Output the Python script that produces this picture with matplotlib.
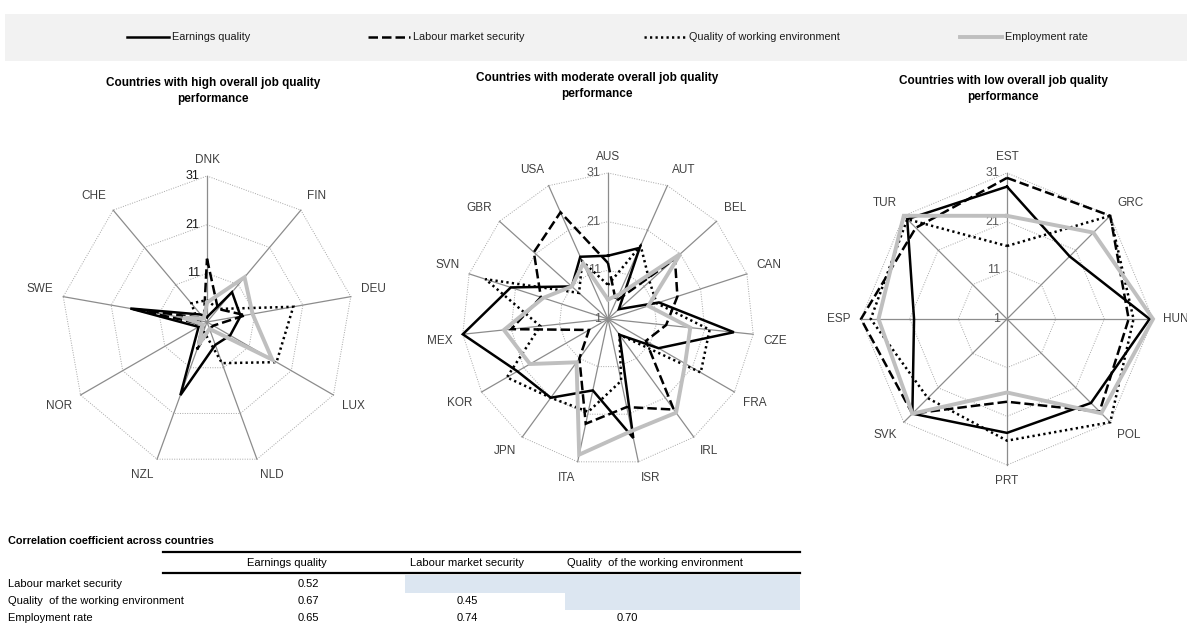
import numpy as np
import matplotlib.pyplot as plt

plt.rcParams['font.family'] = ['Liberation Sans', 'DejaVu Sans']

# series
series_names = ['Earnings quality', 'Labour market security',
                'Quality of working environment', 'Employment rate']

# high performers
high_countries = ['DNK', 'FIN', 'DEU', 'LUX', 'NLD', 'NZL', 'NOR', 'SWE', 'CHE']
high_earnings = [2, 9, 8, 6.5, 6, 17, 3, 17, 3]
high_labour = [14, 4.5, 9, 2.5, 2.5, 7, 2, 16.5, 2]
high_quality = [5.5, 4.5, 19, 17.5, 10, 3, 2, 3, 6]
high_employment = [5, 13, 10.5, 16.5, 2.5, 6, 2, 6, 2]

# moderate performers
mod_countries = ['AUS', 'AUT', 'BEL', 'CAN', 'CZE', 'FRA', 'IRL', 'ISR',
                 'ITA', 'JPN', 'KOR', 'MEX', 'SVN', 'GBR', 'USA']
mod_earnings = [14, 17, 4, 12, 27, 13, 5, 26, 16, 21, 22.5, 31, 22, 11, 15]
mod_labour = [12.5, 5, 19.5, 16, 13, 10, 24, 19.5, 23, 11, 5.5, 21, 15.5, 21.5, 25]
mod_quality = [8, 17.5, 12.5, 11.5, 22, 23, 5, 14, 20.5, 21, 25, 15, 27.5, 9, 14]
mod_employment = [5, 6.5, 21, 9.7, 18, 19.3, 24.8, 24.5, 29.5, 12, 19.5, 22.5, 15, 11, 13.5]

# low performers
low_countries = ['EST', 'GRC', 'HUN', 'POL', 'PRT', 'SVK', 'ESP', 'TUR']
low_earnings = [28.2, 19.2, 30.3, 25.4, 24.4, 28.5, 20.1, 30]
low_labour = [30, 31, 26, 27.9, 18, 28.5, 31, 27.5]
low_quality = [16, 31, 27, 31, 26, 24, 29, 30]
low_employment = [22.2, 26.1, 31, 28.4, 16.1, 28.5, 27.4, 31]

titles = ['Countries with high overall job quality\nperformance',
          'Countries with moderate overall job quality\nperformance',
          'Countries with low overall job quality\nperformance']

ring_values = [1, 11, 21, 31]

# correlation table
col_labels = ['Earnings quality', 'Labour market security',
              'Quality  of the working environment']
row_labels = ['Labour market security', 'Quality  of the working environment',
              'Employment rate']
corr_values = [[0.52, None, None],
               [0.67, 0.45, None],
               [0.65, 0.74, 0.70]]

W, H = 1187, 632
fig = plt.figure(figsize=(W / 100, H / 100), dpi=100)

styles = [dict(color='black', lw=1.8, ls='-'),
          dict(color='black', lw=1.8, ls=(0, (3.8, 1.6))),
          dict(color='black', lw=1.8, ls=(0, (0.9, 1.3))),
          dict(color='#bfbfbf', lw=2.8, ls='-')]

rmin, rmax = 1, 31
R = 146  # radius in pixels


def polar_xy(values, n):
    ang = np.arange(n) * 2 * np.pi / n
    r = (np.asarray(values, dtype=float) - rmin) / (rmax - rmin)
    return r * np.sin(ang), r * np.cos(ang)


def radar(cx, cy, countries, series, tick_color):
    half = 1.45
    ax = fig.add_axes([(cx - half * R) / W, (H - cy - half * R) / H,
                       2 * half * R / W, 2 * half * R / H])
    ax.set_xlim(-half, half)
    ax.set_ylim(-half, half)
    ax.axis('off')
    n = len(countries)
    for v in ring_values[1:]:
        x, y = polar_xy([v] * n, n)
        ax.plot(np.append(x, x[0]), np.append(y, y[0]), color='#a6a6a6',
                lw=0.7, ls=(0, (1, 1.5)), zorder=1)
    x, y = polar_xy([rmax] * n, n)
    for xi, yi in zip(x, y):
        ax.plot([0, xi], [0, yi], color='#8c8c8c', lw=0.9, zorder=1)
    for v in ring_values:
        r = (v - rmin) / (rmax - rmin)
        ax.text(-0.05, r, str(v), ha='right', va='center', fontsize=9,
                color=tick_color, zorder=2)
    for xi, yi, name in zip(x, y, countries):
        ha = 'left' if xi > 0.1 else ('right' if xi < -0.1 else 'center')
        va = 'bottom' if yi > 0.1 else ('top' if yi < -0.1 else 'center')
        ax.text(xi * 1.07, yi * 1.07, name, ha=ha, va=va, fontsize=8.5,
                color='#404040')
    for vals, st in zip(series, styles):
        x, y = polar_xy(vals, n)
        ax.plot(np.append(x, x[0]), np.append(y, y[0]), zorder=3,
                solid_joinstyle='miter', dash_joinstyle='miter', **st)
    return ax


radar(207, 322, high_countries,
      [high_earnings, high_labour, high_quality, high_employment], '#1a1a1a')
radar(608, 319, mod_countries,
      [mod_earnings, mod_labour, mod_quality, mod_employment], '#595959')
radar(1007, 319, low_countries,
      [low_earnings, low_labour, low_quality, low_employment], '#595959')

# overlay in pixel coordinates for legend, titles and table
ov = fig.add_axes([0, 0, 1, 1], zorder=-1)
ov.set_xlim(0, W)
ov.set_ylim(H, 0)
ov.axis('off')

ov.add_patch(plt.Rectangle((5, 14), W - 5, 47, color='#f2f2f2', lw=0))
leg_x = [127, 368, 644, 960]
for x0, name, st in zip(leg_x, series_names, styles):
    ov.plot([x0, x0 + 42], [37, 37], **st)
    ov.text(x0 + 45, 37, name, ha='left', va='center', fontsize=7.8, color='#1a1a1a')

for cx, cy, t in zip([213, 597, 1003], [91, 86, 89], titles):
    ov.text(cx, cy, t, ha='center', va='center', fontsize=8.5,
            fontweight='bold', linespacing=1.45)

# table
ov.text(8, 541, 'Correlation coefficient across countries', ha='left',
        va='center', fontsize=7.8, fontweight='bold')
ov.plot([163, 800], [552, 552], color='black', lw=1.6)
ov.plot([163, 800], [573, 573], color='black', lw=1.6)
header_x = [287, 467, 655]
value_x = [308, 467, 627]
row_y = [584, 601, 618]
for hx, lab in zip(header_x, col_labels):
    ov.text(hx, 563, lab, ha='center', va='center', fontsize=8)
ov.add_patch(plt.Rectangle((405, 575), 395, 17.5, color='#dce6f1', lw=0))
ov.add_patch(plt.Rectangle((565, 592.5), 235, 17.5, color='#dce6f1', lw=0))
for ry, lab, vals in zip(row_y, row_labels, corr_values):
    ov.text(8, ry, lab, ha='left', va='center', fontsize=8)
    for vx, v in zip(value_x, vals):
        if v is not None:
            ov.text(vx, ry, f'{v:.2f}', ha='center', va='center', fontsize=8)

fig.savefig('out.png', dpi=100)
